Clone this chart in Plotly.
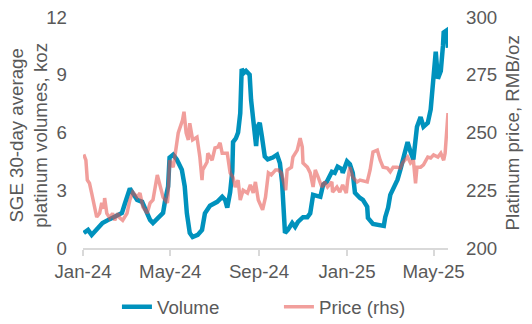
import plotly.graph_objects as go

# ---- Volume (SGE 30-day average platinum volumes, koz) ----
vol_dates = [
    "2024-01-02", "2024-01-08", "2024-01-13", "2024-01-20", "2024-01-28",
    "2024-02-07", "2024-02-17", "2024-02-24", "2024-02-28",
    "2024-03-06", "2024-03-10", "2024-03-16", "2024-03-23", "2024-03-27",
    "2024-04-03", "2024-04-07", "2024-04-14", "2024-04-21", "2024-04-24", "2024-04-28", "2024-04-30",
    "2024-05-05", "2024-05-10", "2024-05-17", "2024-05-21", "2024-05-24", "2024-05-28",
    "2024-06-01", "2024-06-08", "2024-06-14", "2024-06-18", "2024-06-25",
    "2024-07-05", "2024-07-12", "2024-07-16", "2024-07-19", "2024-07-23", "2024-07-26", "2024-07-27", "2024-07-31",
    "2024-08-03", "2024-08-06", "2024-08-08", "2024-08-11", "2024-08-14", "2024-08-19", "2024-08-21", "2024-08-25", "2024-08-28", "2024-08-30",
    "2024-09-02", "2024-09-05", "2024-09-09", "2024-09-13", "2024-09-20", "2024-09-26", "2024-09-30",
    "2024-10-03", "2024-10-07", "2024-10-11", "2024-10-17", "2024-10-21", "2024-10-25",
    "2024-11-01", "2024-11-07", "2024-11-11", "2024-11-14", "2024-11-15", "2024-11-25", "2024-11-29",
    "2024-12-04", "2024-12-08", "2024-12-11", "2024-12-15", "2024-12-19", "2024-12-25", "2024-12-26",
    "2025-01-01", "2025-01-05", "2025-01-09", "2025-01-12", "2025-01-19", "2025-01-23", "2025-01-29", "2025-01-30",
    "2025-02-06", "2025-02-16", "2025-02-21", "2025-02-23", "2025-02-27",
    "2025-03-02", "2025-03-06", "2025-03-12", "2025-03-16", "2025-03-20", "2025-03-26", "2025-03-30",
    "2025-04-03", "2025-04-08", "2025-04-13", "2025-04-17", "2025-04-23", "2025-04-27", "2025-04-30",
    "2025-05-01", "2025-05-04", "2025-05-07", "2025-05-11", "2025-05-14", "2025-05-15", "2025-05-19", "2025-05-20", "2025-05-21",
]
vol_values = [
    0.78, 0.94, 0.68, 0.94, 1.3,
    1.5, 1.67, 1.82, 2.3,
    3.1, 2.85, 2.5, 2.4, 2.1,
    1.46, 1.3, 1.56, 1.82, 2.5, 3.2, 4.7,
    4.85, 4.6, 4.07, 3.2, 1.8, 0.78,
    0.57, 0.68, 0.94, 1.8, 2.2,
    2.4, 2.66, 2.5, 2.1, 2.9, 4.0, 5.5, 5.7,
    6.0, 7.0, 9.3, 9.1, 9.2, 9.0, 7.7, 6.15, 5.3, 6.3,
    6.5, 5.8, 4.75, 4.6, 4.7, 4.85, 4.4,
    3.4, 0.78, 0.94, 1.3, 1.1, 1.36,
    1.6, 1.6, 1.8, 2.66, 2.76, 2.66, 3.3,
    3.44, 3.7, 3.96, 3.9, 4.23, 4.1, 3.9,
    4.5, 4.35, 3.9, 2.87, 2.6, 2.5, 2.14, 1.56,
    1.25, 1.15, 1.15, 1.6, 2.1,
    2.76, 3.1, 3.55, 4.07, 4.75, 5.5, 5.0,
    4.6, 6.3, 6.8, 6.3, 6.5, 7.2, 8.6,
    9.0, 10.2, 8.8, 9.2, 10.5, 11.2, 11.3, 11.0, 10.4,
]

# ---- Price (RMB/oz, right axis) ----
price_dates = [
    "2024-01-02", "2024-01-05", "2024-01-07", "2024-01-10", "2024-01-13", "2024-01-15", "2024-01-20", "2024-01-24", "2024-01-27", "2024-01-30", "2024-01-31",
    "2024-02-03", "2024-02-07", "2024-02-11", "2024-02-14", "2024-02-18", "2024-02-21", "2024-02-25",
    "2024-03-02", "2024-03-06", "2024-03-10", "2024-03-16", "2024-03-20", "2024-03-24", "2024-03-30",
    "2024-04-03", "2024-04-07", "2024-04-13", "2024-04-17", "2024-04-21", "2024-04-27", "2024-04-28", "2024-04-30",
    "2024-05-05", "2024-05-08", "2024-05-12", "2024-05-18", "2024-05-20", "2024-05-23", "2024-05-26", "2024-05-28",
    "2024-06-01", "2024-06-07", "2024-06-11", "2024-06-14", "2024-06-15", "2024-06-21", "2024-06-22", "2024-06-28",
    "2024-07-02", "2024-07-06", "2024-07-09", "2024-07-12", "2024-07-16", "2024-07-19", "2024-07-23", "2024-07-27", "2024-07-30",
    "2024-08-03", "2024-08-06", "2024-08-10", "2024-08-16", "2024-08-20", "2024-08-24", "2024-08-27", "2024-08-31",
    "2024-09-06", "2024-09-10", "2024-09-14", "2024-09-18", "2024-09-24", "2024-09-28",
    "2024-10-02", "2024-10-08", "2024-10-10", "2024-10-16", "2024-10-18", "2024-10-24", "2024-10-28", "2024-10-31",
    "2024-11-01", "2024-11-07", "2024-11-11", "2024-11-15", "2024-11-18", "2024-11-22", "2024-11-27",
    "2024-12-01", "2024-12-05", "2024-12-11", "2024-12-12", "2024-12-18", "2024-12-22", "2024-12-26", "2024-12-31",
    "2025-01-02", "2025-01-05", "2025-01-09", "2025-01-15", "2025-01-19", "2025-01-29",
    "2025-02-02", "2025-02-06", "2025-02-12", "2025-02-16", "2025-02-20", "2025-02-26",
    "2025-03-02", "2025-03-06", "2025-03-11", "2025-03-16", "2025-03-19", "2025-03-26", "2025-03-30",
    "2025-04-03", "2025-04-06", "2025-04-08", "2025-04-13", "2025-04-17", "2025-04-23", "2025-04-27",
    "2025-05-01", "2025-05-07", "2025-05-11", "2025-05-15", "2025-05-17", "2025-05-20", "2025-05-21",
]
price_values = [
    240.5, 238, 229.4, 228, 223.8, 220.8, 213.4, 215, 219.5, 217, 221.6,
    215, 213, 215, 212, 215, 213, 212,
    215, 220.8, 224.2, 222, 223.8, 217.7, 215,
    219.5, 220.8, 231.6, 227.3, 222, 219.5, 223, 238,
    235, 241, 249.8, 255.4, 259, 249.8, 246.8, 254,
    246.8, 248, 239.4, 229.4, 233.8, 237.2, 241, 238,
    243.3, 243.7, 245.5, 241, 241, 241, 232.5, 230.5, 226.4,
    229.4, 220.8, 225, 223.8, 227.3, 223.8, 228.6, 220.8,
    216.5, 222, 232.5, 231.6, 233.8, 233.8,
    232.5, 225, 233.8, 235, 239.4, 242.4, 247.6, 243.7,
    236.8, 235, 232.5, 226.4, 233.8, 230.7, 226.4,
    228.6, 226.4, 228.6, 224.2, 226.4, 224.2, 227.3, 223.8,
    229.4, 235, 230.7, 228.6, 229.4, 228.6,
    233.8, 241.6, 242.4, 238, 235, 234.6,
    233, 235, 235, 234.6, 236.8, 239.4, 236.8,
    238, 228, 235, 235, 236, 239.4, 239,
    240.3, 239.4, 241, 238, 241, 257.6, 258.4,
]

assert len(vol_dates) == len(vol_values)
assert len(price_dates) == len(price_values)

FONT = "Liberation Sans, Arial, sans-serif"
TXT = "#595959"
AXC = "#D9D9D9"
FS = 18.7

fig = go.Figure()
fig.add_trace(go.Scatter(
    x=vol_dates, y=vol_values, name="Volume", mode="lines",
    line=dict(color="#0092BD", width=4.5), yaxis="y",
))
fig.add_trace(go.Scatter(
    x=price_dates, y=price_values, name="Price (rhs)", mode="lines",
    line=dict(color="#E6504B", width=3.5), opacity=0.55, yaxis="y2",
))

fig.update_layout(
    width=532, height=324,
    margin=dict(l=83, r=84, t=17, b=76, autoexpand=False),
    paper_bgcolor="white", plot_bgcolor="white",
    font=dict(family=FONT, size=FS, color=TXT),
    showlegend=True,
    legend=dict(
        orientation="h", x=0.093, xanchor="left",
        yref="container", y=0.052, yanchor="middle",
        font=dict(family=FONT, size=FS, color=TXT),
        entrywidth=117, entrywidthmode="pixels",
        bgcolor="rgba(0,0,0,0)", borderwidth=0,
    ),
    xaxis=dict(
        type="date", range=["2024-01-01", "2025-05-21"],
        tick0="2024-01-01", dtick="M4", tickformat="%b-%y",
        showline=True, linecolor=AXC, linewidth=2,
        ticks="outside", ticklen=6, tickwidth=2, tickcolor=AXC,
        showgrid=False, zeroline=False,
        tickfont=dict(family=FONT, size=FS, color=TXT),
    ),
    yaxis=dict(
        range=[0, 12], tick0=0, dtick=3,
        showline=False, showgrid=False, zeroline=False, ticks="",
        ticklabelstandoff=15,
        tickfont=dict(family=FONT, size=FS, color=TXT),
    ),
    yaxis2=dict(
        range=[200, 300], tick0=200, dtick=25,
        overlaying="y", side="right",
        showline=False, showgrid=False, zeroline=False, ticks="",
        ticklabelstandoff=17,
        tickfont=dict(family=FONT, size=FS, color=TXT),
    ),
    annotations=[
        dict(text="SGE 30-day average<br>platinum volumes, koz",
             xref="paper", yref="paper", x=-0.148, y=0.49,
             xanchor="center", yanchor="middle", textangle=-90,
             showarrow=False, font=dict(family=FONT, size=FS, color=TXT)),
        dict(text="Platinum price, RMB/oz",
             xref="paper", yref="paper", x=1.178, y=0.5,
             xanchor="center", yanchor="middle", textangle=-90,
             showarrow=False, font=dict(family=FONT, size=FS, color=TXT)),
    ],
)

fig.write_html("out.html")
